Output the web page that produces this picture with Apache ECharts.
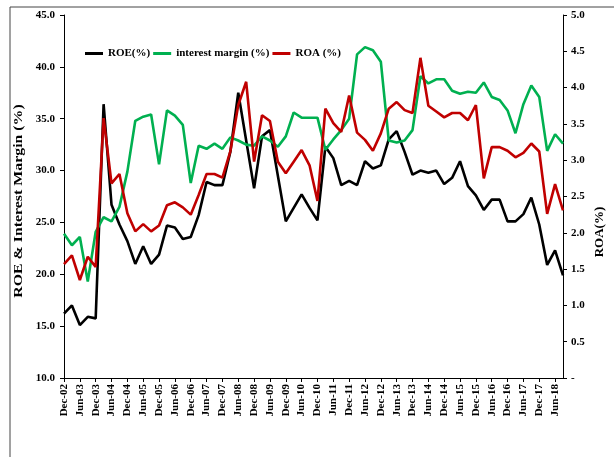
<!DOCTYPE html>
<html>
<head>
<meta charset="utf-8">
<script src="https://cdn.jsdelivr.net/npm/echarts@6/dist/echarts.min.js"></script>
<style>
    html, body { margin: 0; padding: 0; background: #fff; }
    #main { width: 614px; height: 457px; }
</style>
</head>
<body>
<div id="main"></div>
<script>
    // quarter ends, Dec-02 .. Sep-18
    var quarters = [
        'Dec-02',
        'Mar-03', 'Jun-03', 'Sep-03', 'Dec-03',
        'Mar-04', 'Jun-04', 'Sep-04', 'Dec-04',
        'Mar-05', 'Jun-05', 'Sep-05', 'Dec-05',
        'Mar-06', 'Jun-06', 'Sep-06', 'Dec-06',
        'Mar-07', 'Jun-07', 'Sep-07', 'Dec-07',
        'Mar-08', 'Jun-08', 'Sep-08', 'Dec-08',
        'Mar-09', 'Jun-09', 'Sep-09', 'Dec-09',
        'Mar-10', 'Jun-10', 'Sep-10', 'Dec-10',
        'Mar-11', 'Jun-11', 'Sep-11', 'Dec-11',
        'Mar-12', 'Jun-12', 'Sep-12', 'Dec-12',
        'Mar-13', 'Jun-13', 'Sep-13', 'Dec-13',
        'Mar-14', 'Jun-14', 'Sep-14', 'Dec-14',
        'Mar-15', 'Jun-15', 'Sep-15', 'Dec-15',
        'Mar-16', 'Jun-16', 'Sep-16', 'Dec-16',
        'Mar-17', 'Jun-17', 'Sep-17', 'Dec-17',
        'Mar-18', 'Jun-18', 'Sep-18'
    ];

    var roe = [
        16.2, 17.0, 15.1, 15.9, 15.75, 36.4, 26.7, 24.8, 23.2, 21.0,
        22.7, 21.0, 21.9, 24.7, 24.5, 23.4, 23.6, 25.7, 28.9, 28.6,
        28.6, 31.8, 37.5, 32.9, 28.3, 33.3, 33.9, 29.5, 25.1, 26.4,
        27.7, 26.4, 25.2, 32.3, 31.2, 28.6, 29.0, 28.6, 30.9, 30.2,
        30.5, 33.0, 33.8, 31.8, 29.6, 30.0, 29.8, 30.0, 28.7, 29.3,
        30.9, 28.5, 27.6, 26.2, 27.2, 27.2, 25.1, 25.1, 25.8, 27.4,
        24.8, 20.9, 22.3, 19.9
    ];

    var interestMargin = [
        23.9, 22.8, 23.6, 19.3, 24.1, 25.5, 25.1, 26.5, 29.9, 34.8,
        35.2, 35.4, 30.6, 35.8, 35.3, 34.4, 28.8, 32.4, 32.1, 32.6,
        32.1, 33.2, 32.9, 32.5, 32.4, 33.3, 32.9, 32.3, 33.3, 35.6,
        35.1, 35.1, 35.1, 32.0, 33.0, 33.9, 35.0, 41.2, 41.9, 41.6,
        40.5, 32.9, 32.7, 32.9, 33.9, 39.1, 38.4, 38.8, 38.8, 37.7,
        37.4, 37.6, 37.5, 38.5, 37.1, 36.8, 35.8, 33.6, 36.4, 38.2,
        37.1, 31.9, 33.5, 32.6
    ];

    var roa = [
        1.57, 1.69, 1.35, 1.67, 1.53, 3.58, 2.68, 2.81, 2.27, 2.02,
        2.12, 2.02, 2.10, 2.38, 2.42, 2.35, 2.25, 2.52, 2.81, 2.81,
        2.76, 3.12, 3.76, 4.08, 2.98, 3.62, 3.54, 2.98, 2.82, 2.98,
        3.14, 2.93, 2.44, 3.71, 3.51, 3.39, 3.89, 3.38, 3.28, 3.13,
        3.37, 3.71, 3.80, 3.69, 3.65, 4.41, 3.75, 3.67, 3.59, 3.65,
        3.65, 3.55, 3.76, 2.75, 3.18, 3.18, 3.13, 3.04, 3.10, 3.23,
        3.12, 2.26, 2.67, 2.31
    ];

    var serif = "'Liberation Serif', 'Times New Roman', serif";

    var chart = echarts.init(document.getElementById('main'), null, { renderer: 'canvas' });
    chart.setOption({
        backgroundColor: '#ffffff',
        animation: false,
        grid: { left: 64, right: 51, top: 15, bottom: 79 },
        legend: {
            left: 80,
            top: 43,
            icon: 'rect',
            itemWidth: 18,
            itemHeight: 3,
            itemGap: 3,
            textStyle: { fontFamily: serif, fontWeight: 'bold', fontSize: 11, color: '#000' },
            data: ['ROE(%)', 'interest margin (%)', 'ROA (%)']
        },
        xAxis: {
            type: 'category',
            data: quarters,
            boundaryGap: false,
            axisLine: { lineStyle: { color: '#000', width: 1 } },
            axisTick: { interval: 1, length: 4, lineStyle: { color: '#000' } },
            axisLabel: {
                interval: 1,
                rotate: 90,
                margin: 6,
                fontFamily: serif,
                fontWeight: 'bold',
                fontSize: 11,
                color: '#000'
            },
            splitLine: { show: false }
        },
        yAxis: [{
            type: 'value',
            min: 10,
            max: 45,
            interval: 5,
            axisLine: { show: true, lineStyle: { color: '#000', width: 1 } },
            axisTick: { show: true, length: 4, lineStyle: { color: '#000' } },
            axisLabel: {
                margin: 9,
                fontFamily: serif,
                fontWeight: 'bold',
                fontSize: 11,
                color: '#000',
                formatter: function (v) { return v.toFixed(1); }
            },
            splitLine: { show: false }
        }, {
            type: 'value',
            min: 0,
            max: 5,
            interval: 0.5,
            position: 'right',
            axisLine: { show: true, lineStyle: { color: '#000', width: 1 } },
            axisTick: { show: true, length: 4, lineStyle: { color: '#000' } },
            axisLabel: {
                margin: 8,
                fontFamily: serif,
                fontWeight: 'bold',
                fontSize: 11,
                color: '#000',
                formatter: function (v) { return v === 0 ? '-' : v.toFixed(1); }
            },
            splitLine: { show: false }
        }],
        series: [{
            name: 'ROE(%)',
            type: 'line',
            yAxisIndex: 0,
            data: roe,
            symbol: 'none',
            itemStyle: { color: '#000000' },
            lineStyle: { color: '#000000', width: 2.6 }
        }, {
            name: 'interest margin (%)',
            type: 'line',
            yAxisIndex: 0,
            data: interestMargin,
            symbol: 'none',
            itemStyle: { color: '#00b050' },
            lineStyle: { color: '#00b050', width: 2.6 }
        }, {
            name: 'ROA (%)',
            type: 'line',
            yAxisIndex: 1,
            data: roa,
            symbol: 'none',
            itemStyle: { color: '#c00000' },
            lineStyle: { color: '#c00000', width: 2.6 }
        }],
        graphic: [{
            // frame around the figure
            type: 'polyline',
            shape: { points: [[10, 457], [10, 7], [614, 7]] },
            style: { stroke: '#444', lineWidth: 1, fill: null },
            silent: true
        }, {
            type: 'text',
            x: 19,
            y: 201,
            rotation: Math.PI / 2,
            scaleX: 1.22,
            style: {
                text: 'ROE & Interest Margin (%)',
                fontFamily: serif,
                fontWeight: 'bold',
                fontSize: 13,
                fill: '#000',
                align: 'center',
                verticalAlign: 'middle'
            }
        }, {
            type: 'text',
            x: 600,
            y: 232,
            rotation: Math.PI / 2,
            style: {
                text: 'ROA(%)',
                fontFamily: serif,
                fontWeight: 'bold',
                fontSize: 13,
                fill: '#000',
                align: 'center',
                verticalAlign: 'middle'
            }
        }]
    });
</script>
</body>
</html>
